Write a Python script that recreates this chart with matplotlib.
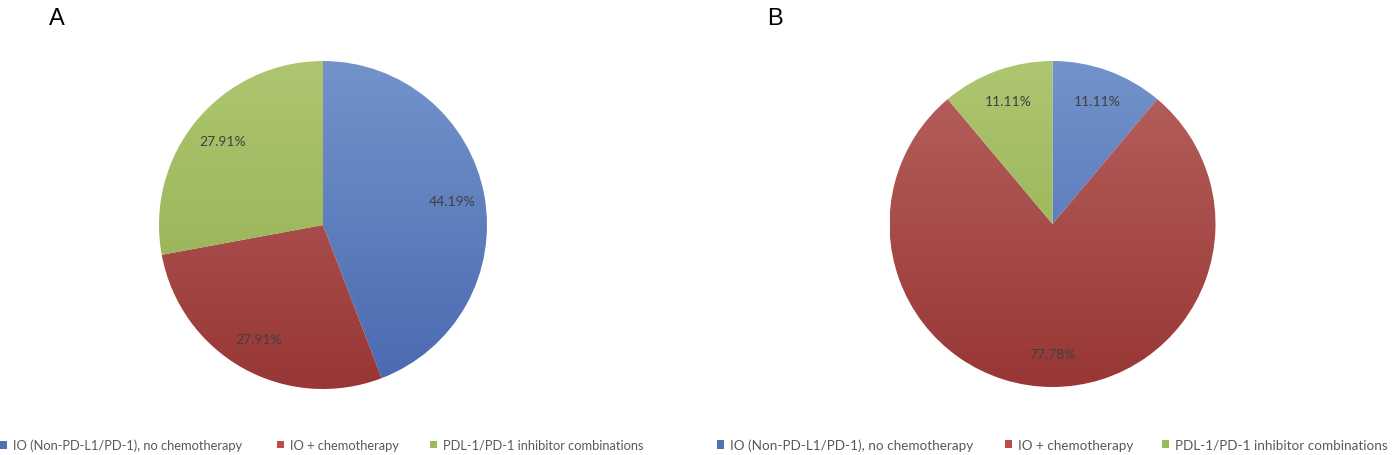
import numpy as np
import matplotlib
matplotlib.use("Agg")
import matplotlib.pyplot as plt
from matplotlib.patches import Patch
from matplotlib.colors import to_rgb

categories = ["IO (Non-PD-L1/PD-1), no chemotherapy", "IO + chemotherapy",
              "PDL-1/PD-1 inhibitor combinations"]
values_a = [44.19, 27.91, 27.91]
values_b = [11.11, 77.78, 11.11]
panel_labels = ["A", "B"]

top_colors = ["#7393CB", "#B6625F", "#AEC670"]
bottom_colors = ["#4A69B1", "#983735", "#8FAC4C"]
legend_colors = ["#4F71B8", "#BE4B48", "#9BBB59"]

plt.rcParams['font.family'] = ['Lato', 'DejaVu Sans']

W, H = 1394, 456
fig = plt.figure(figsize=(W / 100, H / 100), dpi=100)

def draw_pie(cx, cy, r, vals, plabel, plabel_x):
    ax = fig.add_axes([(cx - r) / W, (H - cy - r) / H, 2 * r / W, 2 * r / H])
    wedges, texts, autotexts = ax.pie(vals, startangle=90, counterclock=False,
                                      radius=1, autopct='%1.2f%%', pctdistance=0.8,
                                      wedgeprops=dict(linewidth=0),
                                      textprops=dict(fontsize=10, color='#404040'))
    for i, w in enumerate(wedges):
        w.set_facecolor('none')
        t = np.array(to_rgb(top_colors[i]))
        b = np.array(to_rgb(bottom_colors[i]))
        f = np.linspace(0, 1, 256)[:, None]
        grad = (t * (1 - f) + b * f)[:, None, :]
        im = ax.imshow(grad, extent=[-1, 1, -1, 1], origin='upper', aspect='auto',
                       zorder=0.5, interpolation='bilinear')
        im.set_clip_path(w)
    for at in autotexts:
        at.set_zorder(3)
    ax.set_xlim(-1, 1)
    ax.set_ylim(-1, 1)
    ax.set_aspect('equal')
    ax.axis('off')
    fig.text(plabel_x / W, 1 - 19 / H, plabel, fontsize=17, family='Liberation Sans',
             ha='center', va='center')

draw_pie(323, 226, 164, values_a, panel_labels[0], 57)
draw_pie(1052.5, 225, 163, values_b, panel_labels[1], 775)

legend_x = [([0, 277, 430], 9.3), ([717, 1005, 1162], 9.7)]
for xs, fs in legend_x:
    for x0, cat, col in zip(xs, categories, legend_colors):
        fig.legend([Patch(facecolor=col, edgecolor='none')], [cat], loc='center left',
                   bbox_to_anchor=(x0 / W, 1 - 446 / H), frameon=False,
                   fontsize=fs, labelcolor='#595959', handlelength=0.55,
                   handleheight=0.55, handletextpad=0.45, borderaxespad=0, borderpad=0)

fig.savefig("out.png", dpi=100, facecolor='white')
